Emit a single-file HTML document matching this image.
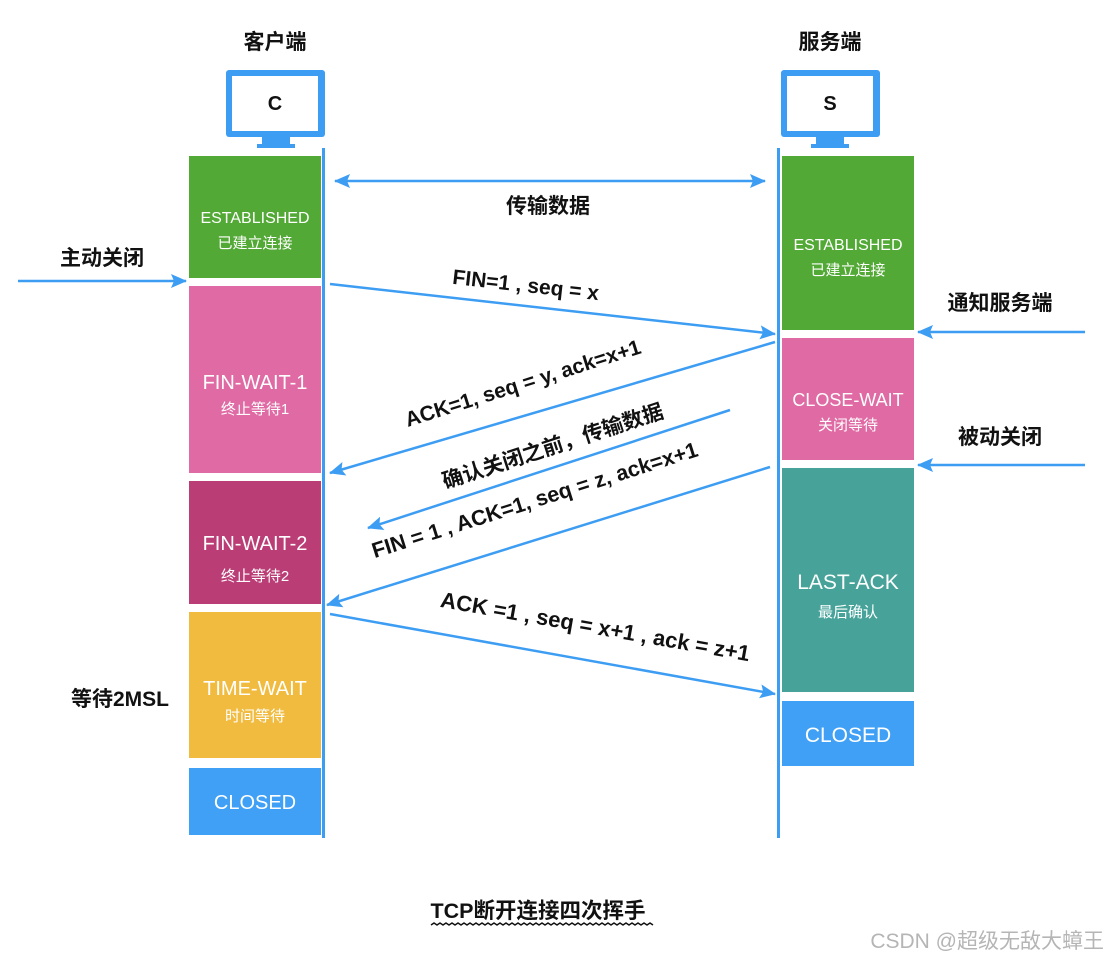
<!DOCTYPE html>
<html><head><meta charset="utf-8"><style>
html,body{margin:0;padding:0;background:#fff;width:1106px;height:960px;overflow:hidden}
svg{display:block}
text{font-family:"Liberation Sans","Noto Sans CJK SC",sans-serif}
.w{fill:#fff;text-anchor:middle}
.b{fill:#111;font-weight:bold}
</style></head><body>
<svg width="1106" height="960" viewBox="0 0 1106 960" xmlns="http://www.w3.org/2000/svg">
<defs>
<marker id="ah2" markerWidth="16" markerHeight="14" refX="15" refY="7" orient="auto" markerUnits="userSpaceOnUse" viewBox="0 0 16 14">
<path d="M0,0 L16,7 L0,14 L3,7 z" fill="#3d9df3"/></marker>
<marker id="ahs" markerWidth="16" markerHeight="14" refX="1" refY="7" orient="auto" markerUnits="userSpaceOnUse" viewBox="0 0 16 14">
<path d="M16,0 L0,7 L16,14 L13,7 z" fill="#3d9df3"/></marker>
</defs>

<text x="275" y="49" class="b" font-size="21" text-anchor="middle">客户端</text>
<text x="830" y="49" class="b" font-size="21" text-anchor="middle">服务端</text>

<rect x="226" y="70" width="99" height="67" rx="3" fill="#3d9df3"/>
<rect x="232" y="76" width="86" height="55" fill="#fff"/>
<rect x="262" y="137" width="28" height="8" fill="#3d9df3"/><rect x="257" y="144" width="38" height="4" fill="#3d9df3"/>
<text x="275" y="110" font-size="20" font-weight="bold" text-anchor="middle" fill="#111">C</text>
<rect x="781" y="70" width="99" height="67" rx="3" fill="#3d9df3"/>
<rect x="787" y="76" width="86" height="55" fill="#fff"/>
<rect x="816" y="137" width="28" height="8" fill="#3d9df3"/><rect x="811" y="144" width="38" height="4" fill="#3d9df3"/>
<text x="830" y="110" font-size="20" font-weight="bold" text-anchor="middle" fill="#111">S</text>

<rect x="322" y="148" width="3" height="690" fill="#3d9df3"/>
<rect x="777" y="148" width="3" height="690" fill="#3d9df3"/>

<rect x="189" y="156" width="132" height="122" fill="#52a935"/>
<text x="255" y="223" class="w" font-size="16">ESTABLISHED</text>
<text x="255" y="248" class="w" font-size="15">已建立连接</text>
<rect x="189" y="286" width="132" height="187" fill="#e06aa4"/>
<text x="255" y="389" class="w" font-size="20">FIN-WAIT-1</text>
<text x="255" y="414" class="w" font-size="15">终止等待1</text>
<rect x="189" y="481" width="132" height="123" fill="#bb3d76"/>
<text x="255" y="550" class="w" font-size="20">FIN-WAIT-2</text>
<text x="255" y="581" class="w" font-size="15">终止等待2</text>
<rect x="189" y="612" width="132" height="146" fill="#f0bb3f"/>
<text x="255" y="695" class="w" font-size="20">TIME-WAIT</text>
<text x="255" y="721" class="w" font-size="15">时间等待</text>
<rect x="189" y="768" width="132" height="67" fill="#3fa0f5"/>
<text x="255" y="809" class="w" font-size="20">CLOSED</text>

<rect x="782" y="156" width="132" height="174" fill="#52a935"/>
<text x="848" y="250" class="w" font-size="16">ESTABLISHED</text>
<text x="848" y="275" class="w" font-size="15">已建立连接</text>
<rect x="782" y="338" width="132" height="122" fill="#e06aa4"/>
<text x="848" y="406" class="w" font-size="18">CLOSE-WAIT</text>
<text x="848" y="430" class="w" font-size="15">关闭等待</text>
<rect x="782" y="468" width="132" height="224" fill="#47a39a"/>
<text x="848" y="589" class="w" font-size="21">LAST-ACK</text>
<text x="848" y="617" class="w" font-size="15">最后确认</text>
<rect x="782" y="701" width="132" height="65" fill="#3fa0f5"/>
<text x="848" y="742" class="w" font-size="21">CLOSED</text>

<g stroke="#3d9df3" stroke-width="2.5" fill="none">
<line x1="335" y1="181" x2="765" y2="181" marker-start="url(#ahs)" marker-end="url(#ah2)"/>
<line x1="18" y1="281" x2="186" y2="281" marker-end="url(#ah2)"/>
<line x1="1085" y1="332" x2="918" y2="332" marker-end="url(#ah2)"/>
<line x1="1085" y1="465" x2="918" y2="465" marker-end="url(#ah2)"/>
<line x1="330" y1="284" x2="775" y2="334" marker-end="url(#ah2)"/>
<line x1="775" y1="342" x2="330" y2="473" marker-end="url(#ah2)"/>
<line x1="730" y1="410" x2="368" y2="528" marker-end="url(#ah2)"/>
<line x1="770" y1="467" x2="327" y2="605" marker-end="url(#ah2)"/>
<line x1="330" y1="614" x2="775" y2="694" marker-end="url(#ah2)"/>
</g>

<text x="548" y="213" class="b" font-size="21" text-anchor="middle">传输数据</text>
<text x="102" y="265" class="b" font-size="21" text-anchor="middle">主动关闭</text>
<text x="1000" y="310" class="b" font-size="21" text-anchor="middle">通知服务端</text>
<text x="1000" y="444" class="b" font-size="21" text-anchor="middle">被动关闭</text>
<text x="120" y="706" class="b" font-size="21" text-anchor="middle">等待2MSL</text>

<text transform="translate(525,292) rotate(6.4)" class="b" font-size="21" text-anchor="middle">FIN=1 , seq = x</text>
<text transform="translate(525,390) rotate(-17.5)" class="b" font-size="21" text-anchor="middle">ACK=1, seq = y, ack=x+1</text>
<text transform="translate(555,453) rotate(-18)" class="b" font-size="21" text-anchor="middle">确认关闭之前，传输数据</text>
<text transform="translate(537,507) rotate(-17.5)" class="b" font-size="21.5" text-anchor="middle">FIN = 1 , ACK=1, seq = z, ack=x+1</text>
<text transform="translate(594,634) rotate(10)" class="b" font-size="22" text-anchor="middle">ACK =1 , seq = x+1 , ack = z+1</text>

<text x="538" y="918" class="b" font-size="21.5" text-anchor="middle">TCP断开连接四次挥手</text>
<path d="M431,925 l3,-2 l3,2 l3,-2 l3,2 l3,-2 l3,2 l3,-2 l3,2 l3,-2 l3,2 l3,-2 l3,2 l3,-2 l3,2 l3,-2 l3,2 l3,-2 l3,2 l3,-2 l3,2 l3,-2 l3,2 l3,-2 l3,2 l3,-2 l3,2 l3,-2 l3,2 l3,-2 l3,2 l3,-2 l3,2 l3,-2 l3,2 l3,-2 l3,2 l3,-2 l3,2 l3,-2 l3,2 l3,-2 l3,2 l3,-2 l3,2 l3,-2 l3,2 l3,-2 l3,2 l3,-2 l3,2 l3,-2 l3,2 l3,-2 l3,2 l3,-2 l3,2 l3,-2 l3,2 l3,-2 l3,2 l3,-2 l3,2 l3,-2 l3,2 l3,-2 l3,2 l3,-2 l3,2 l3,-2 l3,2 l3,-2 l3,2 l3,-2 l3,2" stroke="#111" stroke-width="1.5" fill="none"/>
<text x="1104" y="948" font-size="21" fill="#b5b5b5" text-anchor="end">CSDN @超级无敌大蟑王</text>
</svg>
</body></html>
